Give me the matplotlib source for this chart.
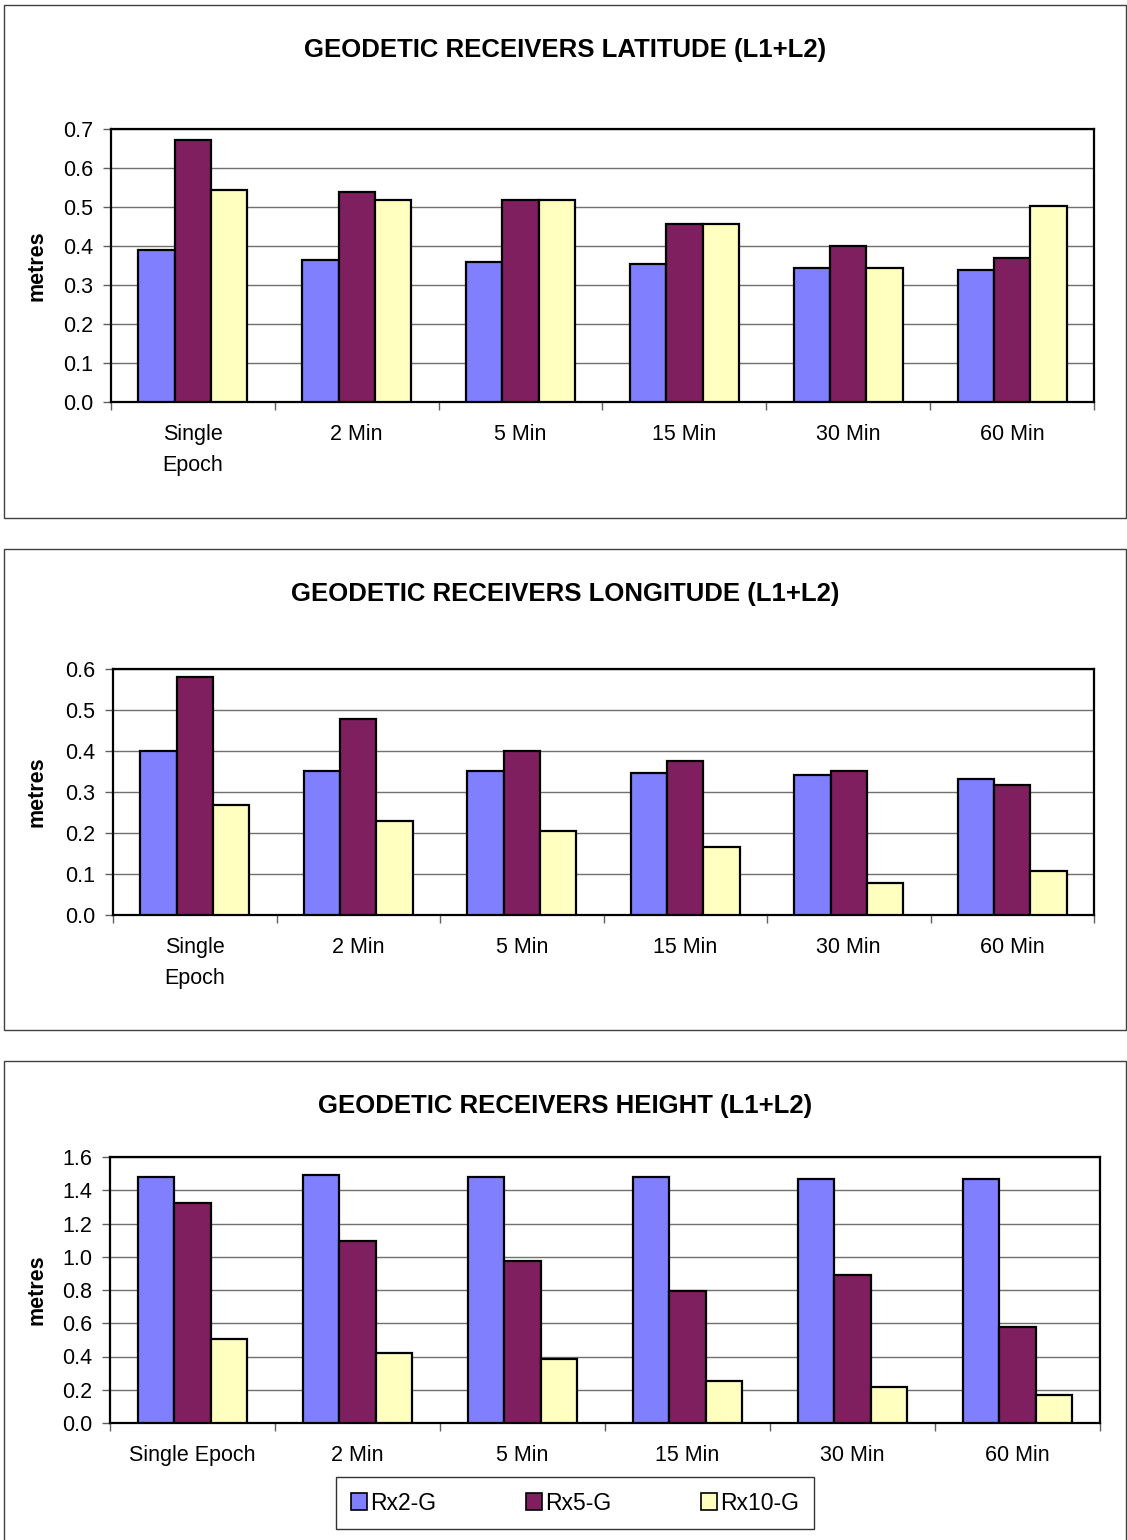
import numpy as np
import matplotlib.pyplot as plt
from matplotlib.patches import Rectangle, Patch

plt.rcParams['font.family'] = ['Liberation Sans', 'DejaVu Sans']

# Positional error per observation span, three receivers
categories = ["Single\nEpoch", "2 Min", "5 Min", "15 Min", "30 Min", "60 Min"]
categories_height = ["Single Epoch", "2 Min", "5 Min", "15 Min", "30 Min", "60 Min"]
series = ["Rx2-G", "Rx5-G", "Rx10-G"]

lat_rx2 = [0.389, 0.363, 0.358, 0.354, 0.344, 0.338]
lat_rx5 = [0.672, 0.538, 0.518, 0.456, 0.400, 0.369]
lat_rx10 = [0.544, 0.518, 0.518, 0.456, 0.344, 0.503]

lon_rx2 = [0.400, 0.352, 0.352, 0.347, 0.342, 0.332]
lon_rx5 = [0.581, 0.479, 0.400, 0.376, 0.352, 0.317]
lon_rx10 = [0.269, 0.230, 0.205, 0.166, 0.078, 0.107]

hgt_rx2 = [1.480, 1.492, 1.480, 1.480, 1.466, 1.466]
hgt_rx5 = [1.323, 1.097, 0.974, 0.792, 0.888, 0.576]
hgt_rx10 = [0.503, 0.421, 0.385, 0.253, 0.215, 0.167]

colors = ["#8080FF", "#7F1F5F", "#FFFFC0"]

W, H = 1127, 1540
fig = plt.figure(figsize=(W / 100, H / 100), dpi=100)


def px_rect(x0, y0, x1, y1):
    return [x0 / W, 1 - y1 / H, (x1 - x0) / W, (y1 - y0) / H]


def panel_box(x0, y0, x1, y1):
    fig.patches.append(Rectangle((x0 / W, 1 - y1 / H), (x1 - x0) / W, (y1 - y0) / H,
                                 transform=fig.transFigure, fill=False,
                                 edgecolor="#404040", linewidth=1.0))


def bar_panel(rect, title, title_y, values, labels, ymax, ystep):
    ax = fig.add_axes(px_rect(*rect))
    x = np.arange(len(labels))
    w = 0.222
    for i, vals in enumerate(values):
        ax.bar(x + (i - 1) * w, vals, width=w, color=colors[i],
               edgecolor="black", linewidth=1.6, zorder=3, label=series[i])
    ax.set_xlim(-0.5, len(labels) - 0.5)
    ax.set_ylim(0, ymax)
    yt = np.arange(0, ymax + ystep / 2, ystep)
    ax.set_yticks(yt)
    ax.set_yticklabels([f"{v:.1f}" for v in yt])
    ax.yaxis.grid(True, color="#707070", linewidth=1.0, zorder=0)
    ax.set_axisbelow(True)
    ax.set_xticks(x)
    ax.set_xticklabels(labels, linespacing=1.6)
    ax.set_xticks(np.arange(-0.5, len(labels)), minor=True)
    ax.tick_params(axis="x", which="major", length=0, pad=16, labelsize=15.5)
    ax.tick_params(axis="x", which="minor", length=6, width=1, color="#606060",
                   direction="out")
    ax.tick_params(axis="y", length=6, width=1, color="#606060", pad=7,
                   labelsize=15.5)
    for s in ax.spines.values():
        s.set_linewidth(1.6)
        s.set_color("black")
    ax.set_ylabel("metres", fontsize=15.5, fontweight="bold")
    ax.yaxis.set_label_coords(-(rect[0] - 47) / (rect[2] - rect[0]), 0.5)
    fig.text(565 / W, 1 - title_y / H, title, ha="center", va="center",
             fontsize=18.5, fontweight="bold")
    return ax


panel_box(4, 5, 1126, 518)
bar_panel((111, 129, 1094, 402), "GEODETIC RECEIVERS LATITUDE (L1+L2)", 50,
          [lat_rx2, lat_rx5, lat_rx10], categories, 0.7, 0.1)

panel_box(4, 549, 1126, 1030)
bar_panel((113, 669, 1094, 915), "GEODETIC RECEIVERS LONGITUDE (L1+L2)", 594,
          [lon_rx2, lon_rx5, lon_rx10], categories, 0.6, 0.1)

panel_box(4, 1061, 1126, 1545)
bar_panel((110, 1157, 1100, 1423), "GEODETIC RECEIVERS HEIGHT (L1+L2)", 1106,
          [hgt_rx2, hgt_rx5, hgt_rx10], categories_height, 1.6, 0.2)

handles = [Patch(facecolor=c, edgecolor="black", linewidth=1.2) for c in colors]
leg = fig.legend(handles, series, loc="center",
                 bbox_to_anchor=(575 / W, 1 - 1503 / H), ncol=3, fontsize=16.5,
                 frameon=True, fancybox=False, handlelength=0.7, handleheight=0.7,
                 handletextpad=0.15, columnspacing=3.9, borderpad=0.65,
                 borderaxespad=0)
leg.get_frame().set_edgecolor("black")
leg.get_frame().set_linewidth(1.0)

fig.savefig("out.png", dpi=100)
